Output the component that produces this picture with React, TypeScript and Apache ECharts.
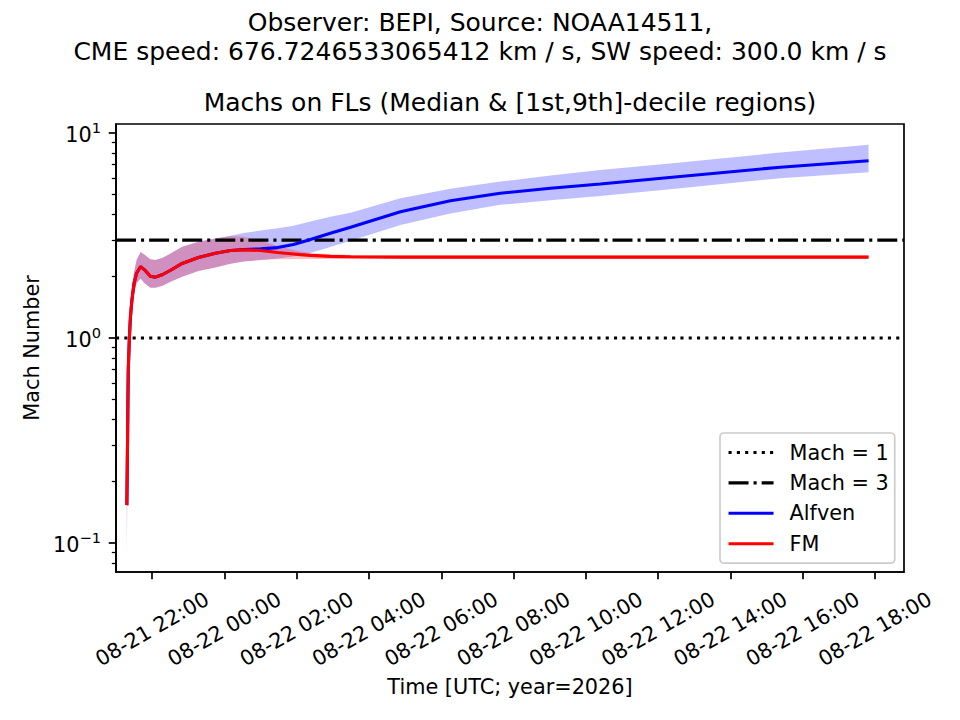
import React, { useEffect, useRef } from 'react';
import * as echarts from 'echarts';

const FONT = 'DejaVu Sans';

// hours since 2026-08-21 00:00 UTC
const times = [
  21.3, 21.32, 21.33, 21.34, 21.37, 21.4, 21.44, 21.5, 21.57, 21.68,
  21.79, 21.95, 22.09, 22.29, 22.51, 22.83, 23.28, 23.75, 24.17, 24.53,
  25.0, 25.47, 25.91, 26.1, 26.38, 26.93, 27.49, 28.87, 30.25, 31.63,
  33.02, 34.4, 36.61, 39.38, 41.82,
];

const alfvenMedian = [
  0.153, 0.32, 0.5, 0.7, 1.0, 1.27, 1.53, 1.85, 2.07, 2.23,
  2.15, 2.0, 1.98, 2.04, 2.14, 2.31, 2.47, 2.59, 2.67, 2.7,
  2.72, 2.76, 2.86, 2.92, 3.02, 3.24, 3.47, 4.13, 4.67, 5.08,
  5.37, 5.64, 6.13, 6.81, 7.32,
];
const alfvenLow = [
  0.09, 0.29, 0.45, 0.63, 0.9, 1.14, 1.38, 1.66, 1.85, 1.95,
  1.85, 1.76, 1.76, 1.8, 1.88, 1.99, 2.12, 2.21, 2.3, 2.36,
  2.4, 2.44, 2.5, 2.54, 2.6, 2.78, 2.98, 3.56, 4.05, 4.46,
  4.7, 4.93, 5.37, 6.02, 6.43,
];
const alfvenHigh = [
  0.2, 0.35, 0.55, 0.77, 1.1, 1.42, 1.72, 2.1, 2.4, 2.63,
  2.55, 2.42, 2.4, 2.46, 2.58, 2.79, 2.95, 3.06, 3.15, 3.25,
  3.34, 3.43, 3.53, 3.6, 3.7, 3.9, 4.08, 4.8, 5.35, 5.79,
  6.2, 6.6, 7.17, 8.03, 8.75,
];

const fmMedian = [
  0.153, 0.32, 0.5, 0.7, 1.0, 1.27, 1.53, 1.85, 2.07, 2.23,
  2.15, 2.0, 1.98, 2.04, 2.14, 2.31, 2.47, 2.59, 2.67, 2.69,
  2.67, 2.61, 2.57, 2.55, 2.53, 2.5, 2.49, 2.48, 2.48, 2.48,
  2.48, 2.48, 2.48, 2.48, 2.48,
];
const fmLow = [
  0.09, 0.29, 0.45, 0.63, 0.9, 1.14, 1.38, 1.66, 1.85, 1.95,
  1.85, 1.76, 1.76, 1.8, 1.88, 1.99, 2.12, 2.21, 2.3, 2.36,
  2.4, 2.42, 2.43, 2.43, 2.43, 2.43, 2.43, 2.43, 2.43, 2.43,
  2.43, 2.43, 2.43, 2.43, 2.43,
];
const fmHigh = [
  0.2, 0.35, 0.55, 0.77, 1.1, 1.42, 1.72, 2.1, 2.4, 2.63,
  2.55, 2.42, 2.4, 2.46, 2.58, 2.79, 2.95, 3.06, 3.14, 3.12,
  2.98, 2.82, 2.69, 2.64, 2.6, 2.56, 2.54, 2.53, 2.53, 2.53,
  2.53, 2.53, 2.53, 2.53, 2.53,
];

const machLevels = [1, 3];
const xMin = 21.0;
const xMax = 42.8;
const yMin = 0.0722;
const yMax = 11.06;
const xTickHours = [22, 24, 26, 28, 30, 32, 34, 36, 38, 40, 42];
const xTickLabels = [
  '08-21 22:00', '08-22 00:00', '08-22 02:00', '08-22 04:00', '08-22 06:00', '08-22 08:00',
  '08-22 10:00', '08-22 12:00', '08-22 14:00', '08-22 16:00', '08-22 18:00',
];
const yMajorTicks = [0.1, 1, 10];
const yMinorTicks = [
  0.08, 0.09, 0.2, 0.3, 0.4, 0.5, 0.6, 0.7, 0.8, 0.9,
  2, 3, 4, 5, 6, 7, 8, 9,
];

const bandSeries = (name: string, low: number[], high: number[], color: string, z: number) => ({
  type: 'custom',
  name,
  silent: true,
  z,
  data: times.map((t, i) => [t, low[i], high[i]]),
  encode: { x: 0, y: [1, 2] },
  renderItem: (params: any, api: any) => {
    if (params.dataIndex !== 0) return null;
    const upper = times.map((t, i) => api.coord([t, high[i]]));
    const lower = times.map((t, i) => api.coord([t, low[i]])).reverse();
    return {
      type: 'polygon',
      shape: { points: upper.concat(lower) },
      style: { fill: color, stroke: 'none' },
    };
  },
});

const App: React.FC = () => {
  const ref = useRef<HTMLDivElement>(null);

  useEffect(() => {
    if (!ref.current) return;
    const chart = echarts.init(ref.current, undefined, { renderer: 'svg' });

    const txt = { fontFamily: FONT, color: '#000', fontWeight: 'normal' as const };
    const logAxisBase = {
      type: 'log', logBase: 10,
      min: yMin, max: yMax,
      position: 'left', offset: 0,
      splitLine: { show: false },
    };

    const option: any = {
      animation: false,
      backgroundColor: '#fff',
      title: [
        { text: 'Observer: BEPI, Source: NOAA14511,', left: 'center', top: 7, padding: 0,
          textStyle: { ...txt, fontSize: 25, lineHeight: 30 } },
        { text: 'CME speed: 676.7246533065412 km / s, SW speed: 300.0 km / s', left: 'center', top: 36, padding: 0,
          textStyle: { ...txt, fontSize: 25, lineHeight: 30 } },
        { text: 'Machs on FLs (Median & [1st,9th]-decile regions)', left: 510, textAlign: 'center', top: 87, padding: 0,
          textStyle: { ...txt, fontSize: 25, lineHeight: 30 } },
      ],
      grid: {
        left: 116, top: 124, right: 56, bottom: 148,
        containLabel: false, outerBoundsMode: 'none',
        show: true, borderColor: '#000', borderWidth: 1.7, backgroundColor: 'transparent',
      },
      legend: {
        data: ['Mach = 1', 'Mach = 3', 'Alfven', 'FM'],
        orient: 'vertical',
        left: 720, top: 433,
        padding: [9, 6, 9, 7],
        itemWidth: 45, itemHeight: 14, itemGap: 9.4,
        backgroundColor: 'rgba(255,255,255,0.8)',
        borderColor: '#cccccc', borderWidth: 1.7, borderRadius: 4,
        itemStyle: { opacity: 0 },
        lineStyle: { width: 3.1 },
        textStyle: { ...txt, fontSize: 20.8, lineHeight: 20, padding: [0, 0, 0, 11] },
        selectedMode: false,
      },
      xAxis: {
        type: 'value',
        min: xMin, max: xMax,
        position: 'bottom',
        name: 'Time [UTC; year=2026]',
        nameLocation: 'middle', nameGap: 104,
        nameTextStyle: { ...txt, fontSize: 20.8 },
        axisLine: { show: true, onZero: false, lineStyle: { color: '#000', width: 1.7 } },
        axisTick: { show: true, customValues: xTickHours, length: 7.3, lineStyle: { color: '#000', width: 1.7 } },
        axisLabel: {
          customValues: xTickHours,
          formatter: (v: number) => xTickLabels[xTickHours.indexOf(Math.round(v))] ?? '',
          rotate: 30, align: 'center', verticalAlign: 'middle', margin: 57,
          ...txt, fontSize: 20.8,
        },
        splitLine: { show: false },
      },
      yAxis: [
        {
          ...logAxisBase,
          name: 'Mach Number',
          nameLocation: 'middle', nameGap: 71,
          nameTextStyle: { ...txt, fontSize: 20.8 },
          axisLine: { show: true, onZero: false, lineStyle: { color: '#000', width: 1.7 } },
          axisTick: { show: true, customValues: yMajorTicks, length: 7.3, lineStyle: { color: '#000', width: 1.7 } },
          axisLabel: {
            customValues: yMajorTicks,
            margin: 15,
            formatter: (v: number) => {
              const e = Math.round(Math.log10(v));
              return `{b|10}{s|${e < 0 ? '\u2212' + -e : e}}`;
            },
            rich: {
              b: { ...txt, fontSize: 20.8, lineHeight: 26, verticalAlign: 'bottom' },
              s: { ...txt, fontSize: 14.6, lineHeight: 26, verticalAlign: 'top' },
            },
          },
        },
        {
          ...logAxisBase,
          axisLine: { show: false, onZero: false },
          axisTick: { show: true, customValues: yMinorTicks, length: 4.2, lineStyle: { color: '#000', width: 1.25 } },
          axisLabel: { show: false },
        },
      ],
      series: [
        bandSeries('Alfven band', alfvenLow, alfvenHigh, 'rgba(0,0,255,0.25)', 1),
        bandSeries('FM band', fmLow, fmHigh, 'rgba(255,0,0,0.25)', 2),
        {
          type: 'line', name: 'Mach = 1', symbol: 'none', z: 3,
          data: [[xMin, machLevels[0]], [xMax, machLevels[0]]],
          lineStyle: { color: '#000', width: 3.1, type: [3.1, 5.2] },
          itemStyle: { color: '#000' },
        },
        {
          type: 'line', name: 'Mach = 3', symbol: 'none', z: 3,
          data: [[xMin, machLevels[1]], [xMax, machLevels[1]]],
          lineStyle: { color: '#000', width: 3.1, type: [20, 5, 3.1, 5] },
          itemStyle: { color: '#000' },
        },
        {
          type: 'line', name: 'Alfven', symbol: 'none', z: 4,
          data: times.map((t, i) => [t, alfvenMedian[i]]),
          lineStyle: { color: '#0000ff', width: 3.1 },
          itemStyle: { color: '#0000ff' },
        },
        {
          type: 'line', name: 'FM', symbol: 'none', z: 5,
          data: times.map((t, i) => [t, fmMedian[i]]),
          lineStyle: { color: '#ff0000', width: 3.1 },
          itemStyle: { color: '#ff0000' },
        },
      ],
    };

    chart.setOption(option);
    return () => chart.dispose();
  }, []);

  return <div ref={ref} style={{ position: 'fixed', left: 0, top: 0, width: 960, height: 720 }} />;
};

export default App;
